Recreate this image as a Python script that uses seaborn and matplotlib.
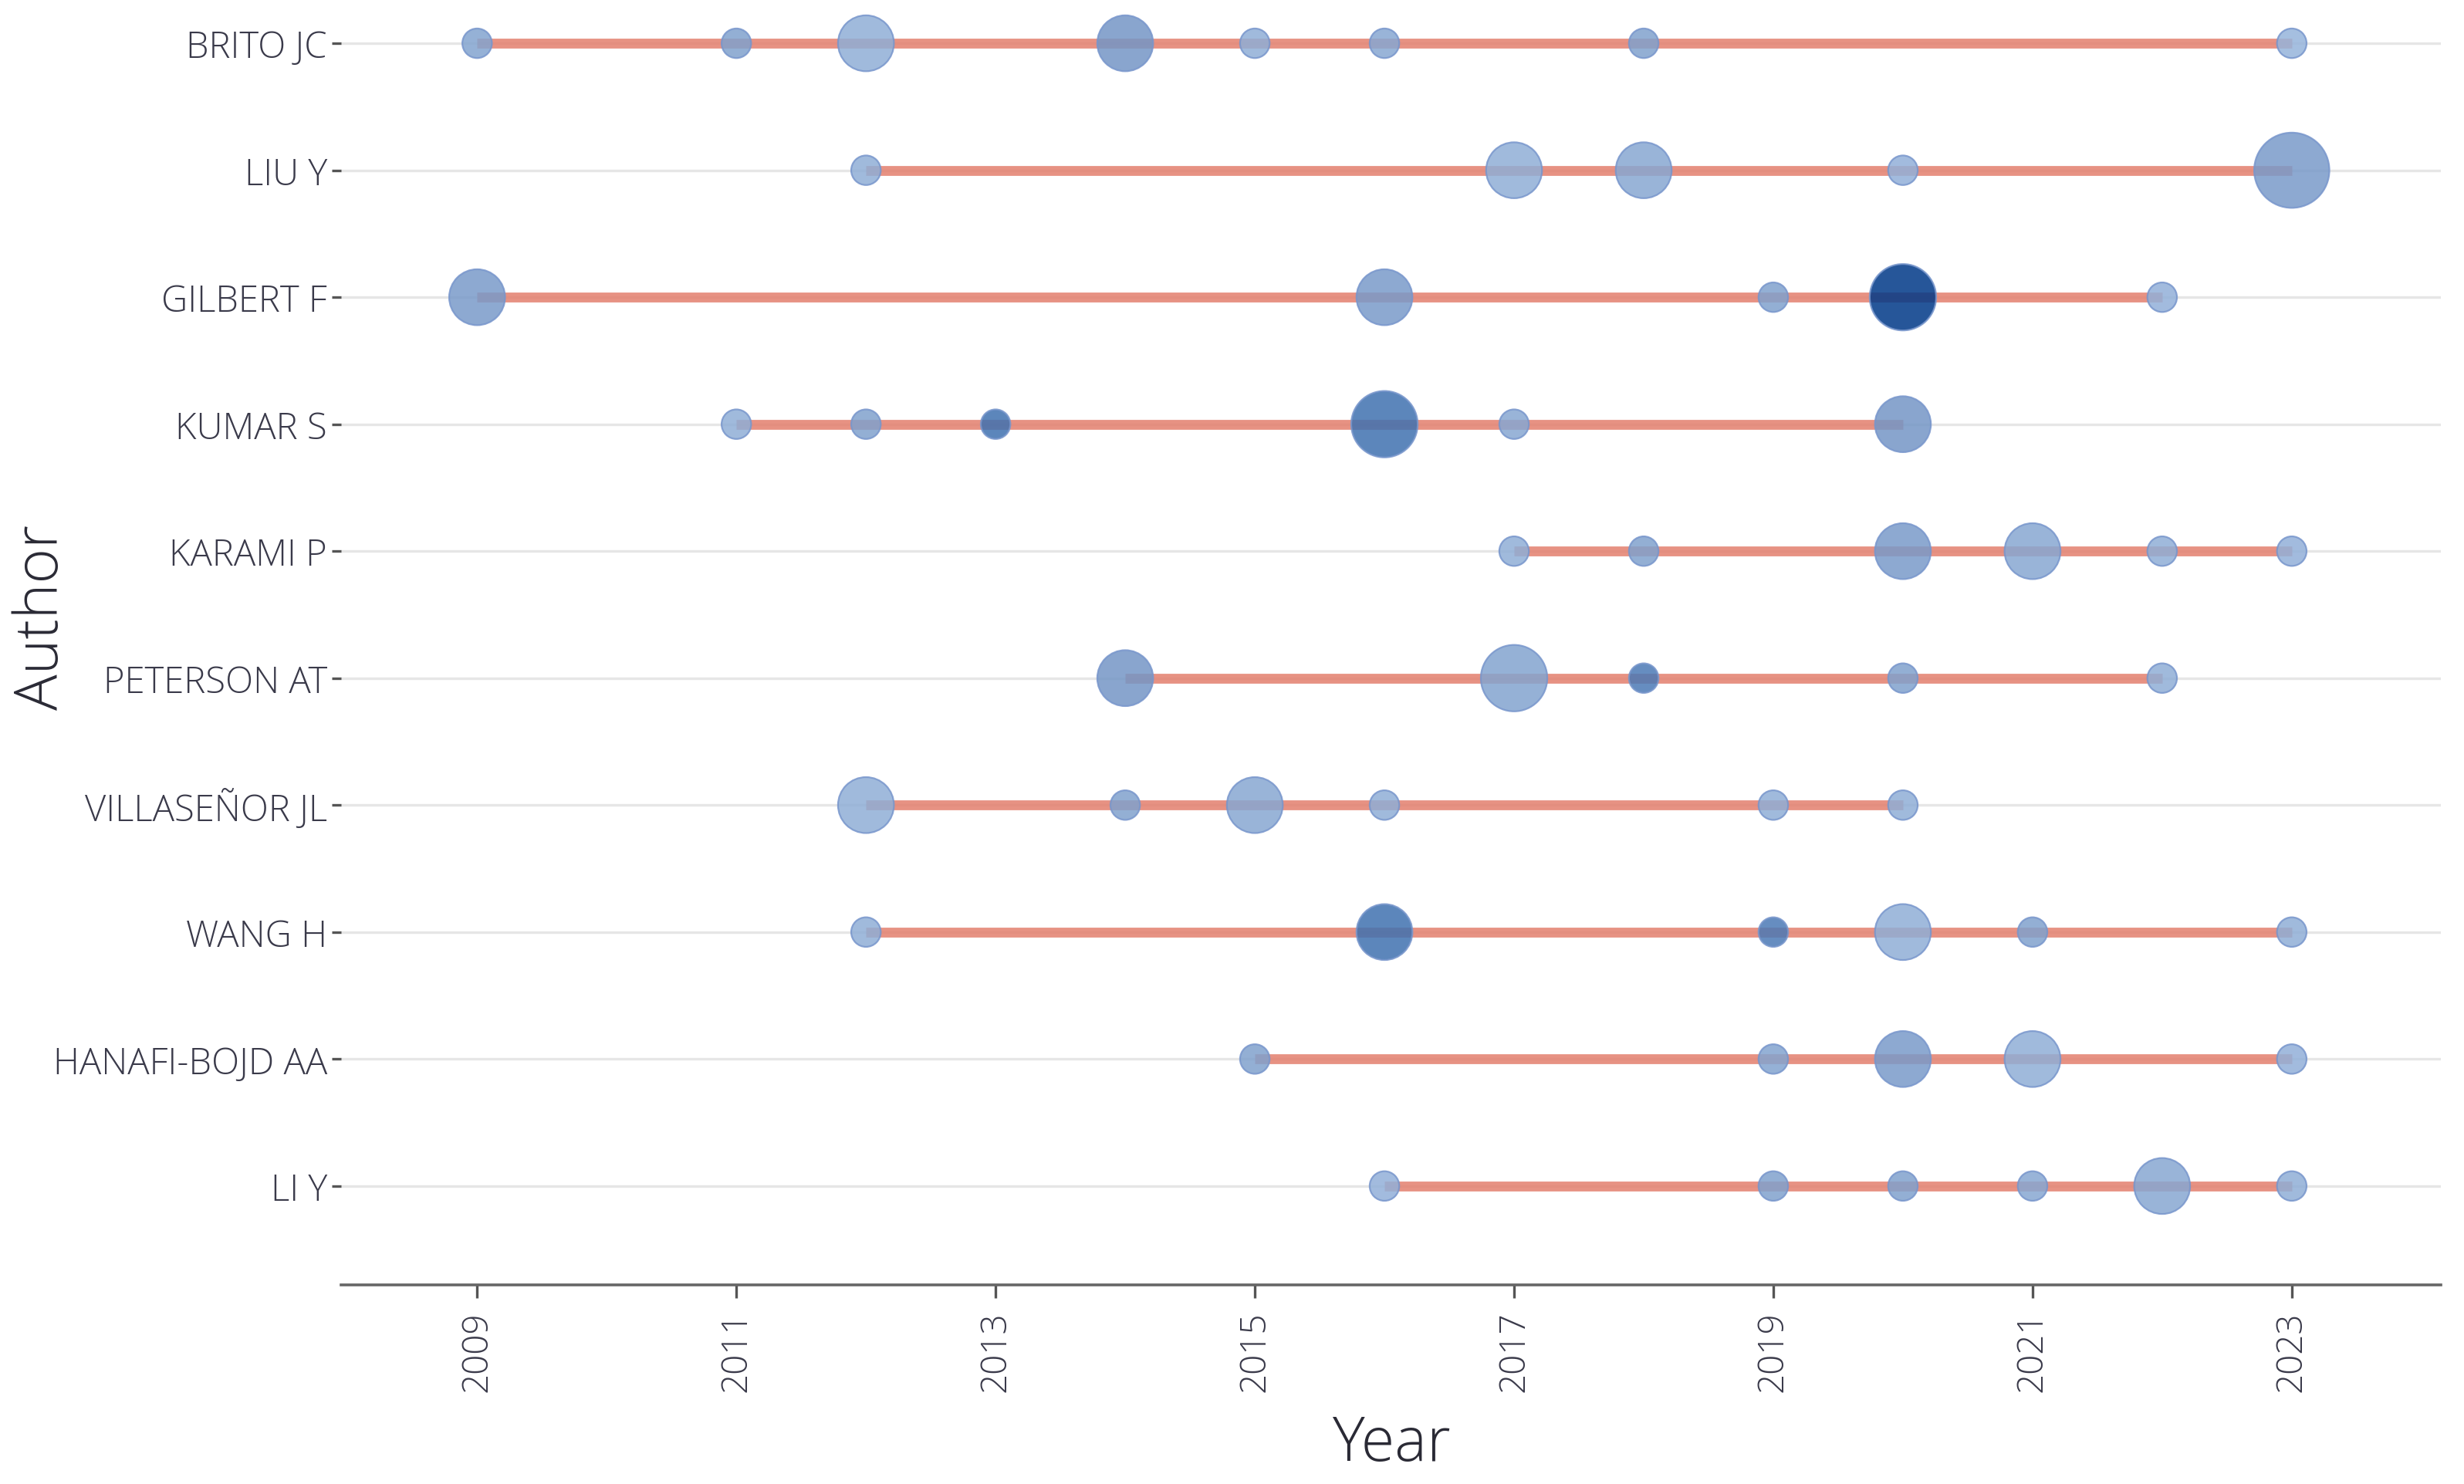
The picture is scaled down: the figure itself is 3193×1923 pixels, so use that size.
import pandas as pd
import numpy as np
import matplotlib
matplotlib.use('Agg')
import matplotlib.pyplot as plt
import seaborn as sb
from matplotlib.colors import LinearSegmentedColormap

# authors top to bottom
authors = ['BRITO JC', 'LIU Y', 'GILBERT F', 'KUMAR S', 'KARAMI P',
           'PETERSON AT', 'VILLASEÑOR JL', 'WANG H', 'HANAFI-BOJD AA', 'LI Y']

# publication years per author
years = [
    [2009, 2011, 2012, 2014, 2015, 2016, 2018, 2023],
    [2012, 2017, 2018, 2020, 2023],
    [2009, 2016, 2019, 2020, 2022],
    [2011, 2012, 2013, 2016, 2017, 2020],
    [2017, 2018, 2020, 2021, 2022, 2023],
    [2014, 2017, 2018, 2020, 2022],
    [2012, 2014, 2015, 2016, 2019, 2020],
    [2012, 2016, 2019, 2020, 2021, 2023],
    [2015, 2019, 2020, 2021, 2023],
    [2016, 2019, 2020, 2021, 2022, 2023],
]

# number of articles (bubble size)
n_articles = [
    [1, 1, 2, 2, 1, 1, 1, 1],
    [1, 2, 2, 1, 4],
    [2, 2, 1, 3, 1],
    [1, 1, 1, 3, 1, 2],
    [1, 1, 2, 2, 1, 1],
    [2, 3, 1, 1, 1],
    [2, 1, 2, 1, 1, 1],
    [1, 2, 1, 2, 1, 1],
    [1, 1, 2, 2, 1],
    [1, 1, 1, 1, 2, 1],
]

# total citations per year (bubble colour)
tc_year = [
    [1.8, 2.0, 1.0, 2.8, 1.0, 1.5, 2.0, 0.5],
    [1.0, 1.0, 1.5, 0.8, 2.5],
    [2.5, 2.5, 2.0, 12.0, 0.8],
    [1.0, 2.0, 5.0, 5.0, 1.5, 2.8],
    [1.0, 2.0, 2.5, 1.5, 1.0, 0.8],
    [2.8, 1.8, 4.5, 2.0, 1.0],
    [1.0, 2.0, 1.5, 1.0, 1.0, 1.0],
    [1.0, 5.0, 4.5, 1.0, 2.0, 1.0],
    [2.0, 1.8, 2.5, 1.0, 0.8],
    [0.8, 2.0, 2.0, 1.5, 1.5, 1.0],
]

rows = []
for a, ys, ns, ts in zip(authors, years, n_articles, tc_year):
    for y, n, t in zip(ys, ns, ts):
        rows.append({'Author': a, 'Year': y, 'Articles': n, 'TC': t})
df = pd.DataFrame(rows)

sb.set_style('white')
plt.rcParams['font.family'] = ['Open Sans', 'DejaVu Sans']

fig = plt.figure(figsize=(3193 / 200, 1924 / 200), dpi=200)
ax = fig.add_axes([0.1384, 0.134, 0.8522, 0.866])

# light horizontal guides for every author
for i in range(len(authors)):
    ax.axhline(i, color='#e6e6e6', lw=1.2, zorder=0)

# production span per author
for i, ys in enumerate(years):
    ax.hlines(i, min(ys), max(ys), color='#e37f6d', lw=4.6, alpha=0.85, zorder=1)

blues = LinearSegmentedColormap.from_list(
    'b', [(0, '#96b4db'), (0.2, '#7496c6'), (0.4, '#3d6faf'), (1.0, '#003887')])
sb.scatterplot(data=df, x='Year', y='Author', size='Articles', hue='TC',
               sizes={1: 190, 2: 680, 3: 960, 4: 1230}, palette=blues,
               hue_norm=(0.5, 12), alpha=0.85, edgecolor='#7896cc', linewidth=0.8,
               legend=False, zorder=3, ax=ax)

ax.set_xlim(2007.95, 2024.15)
ax.set_ylim(9.78, -0.347)
ax.set_xticks(range(2009, 2024, 2))
ax.set_xticklabels([str(y) for y in range(2009, 2024, 2)], rotation=90)

for s in ['top', 'right', 'left']:
    ax.spines[s].set_visible(False)
ax.spines['bottom'].set_color('#666666')
ax.spines['bottom'].set_linewidth(1.3)

ax.tick_params(axis='y', length=4.5, width=1.2, color='#555555', pad=2,
               labelsize=17, labelcolor='#3a3a4a', left=True)
ax.tick_params(axis='x', length=6, width=1.2, color='#555555', pad=6,
               labelsize=16.5, labelcolor='#3a3a4a', bottom=True)
for lab in ax.get_xticklabels() + ax.get_yticklabels():
    lab.set_fontweight('light')

ax.set_xlabel('Year', fontsize=28.5, color='#2a2a35', fontweight='light')
ax.set_ylabel('Author', fontsize=28, color='#2a2a35', fontweight='light')
ax.xaxis.set_label_coords(0.5, -0.1)
ax.yaxis.set_label_coords(-0.128, 0.52)

plt.savefig('out.png', dpi=200)
